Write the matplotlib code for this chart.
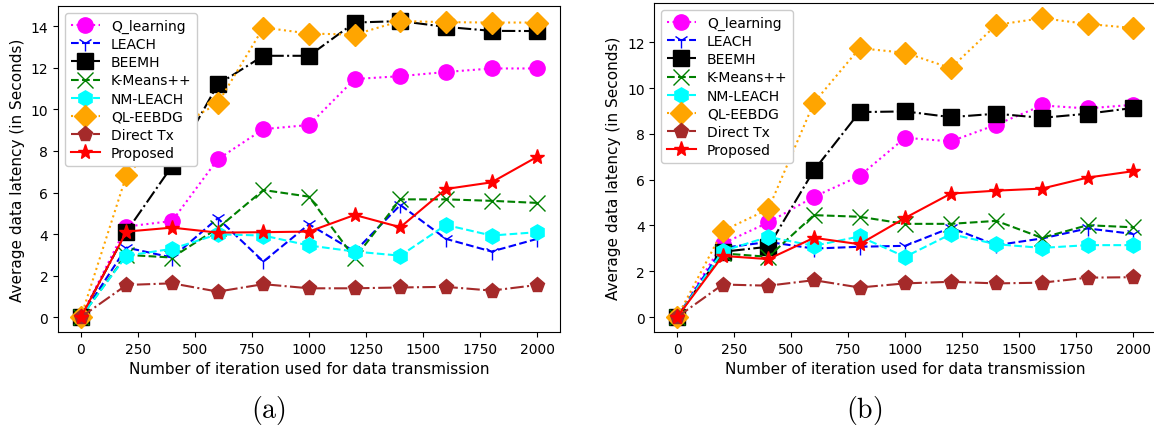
import numpy as np
import matplotlib
matplotlib.use("Agg")
import matplotlib.pyplot as plt

plt.rcParams["mathtext.fontset"] = "cm"

iterations = [0, 200, 400, 600, 800, 1000, 1200, 1400, 1600, 1800, 2000]

labels = ["Q_learning", "LEACH", "BEEMH", "K-Means++",
          "NM-LEACH", "QL-EEBDG", "Direct Tx", "Proposed"]

# panel (a)
q_learning_a = [0, 4.36, 4.63, 7.6, 9.05, 9.25, 11.46, 11.6, 11.8, 11.97, 11.97]
leach_a = [0, 3.35, 2.87, 4.76, 2.68, 4.47, 3.16, 5.4, 3.77, 3.16, 3.77]
beemh_a = [0, 4.12, 7.28, 11.2, 12.58, 12.58, 14.18, 14.25, 13.97, 13.78, 13.77]
kmeans_a = [0, 3.0, 2.87, 4.28, 6.12, 5.8, 2.84, 5.67, 5.67, 5.6, 5.5]
nm_leach_a = [0, 2.96, 3.29, 3.99, 3.93, 3.45, 3.16, 2.96, 4.44, 3.93, 4.09]
ql_eebdg_a = [0, 6.84, 9.0, 10.29, 13.94, 13.65, 13.6, 14.25, 14.2, 14.18, 14.18]
direct_a = [0, 1.55, 1.63, 1.23, 1.59, 1.39, 1.39, 1.43, 1.46, 1.28, 1.55]
proposed_a = [0, 4.12, 4.31, 4.07, 4.09, 4.12, 4.92, 4.33, 6.17, 6.49, 7.72]

# panel (b)
q_learning_b = [0, 3.21, 4.13, 5.25, 6.16, 7.83, 7.67, 8.4, 9.24, 9.11, 9.27]
leach_b = [0, 3.02, 3.28, 2.99, 3.07, 3.11, 3.9, 3.14, 3.43, 3.87, 3.63]
beemh_b = [0, 2.85, 3.07, 6.41, 8.95, 8.98, 8.73, 8.88, 8.7, 8.88, 9.13]
kmeans_b = [0, 2.78, 2.63, 4.45, 4.38, 4.07, 4.07, 4.2, 3.46, 4.01, 3.92]
nm_leach_b = [0, 2.88, 3.5, 3.11, 3.52, 2.63, 3.62, 3.18, 3.02, 3.14, 3.14]
ql_eebdg_b = [0, 3.76, 4.71, 9.36, 11.74, 11.54, 10.87, 12.76, 13.05, 12.8, 12.62]
direct_b = [0, 1.42, 1.37, 1.61, 1.29, 1.47, 1.54, 1.47, 1.5, 1.72, 1.74]
proposed_b = [0, 2.67, 2.53, 3.46, 3.18, 4.33, 5.39, 5.52, 5.61, 6.09, 6.37]

styles = [
    ("magenta", ":", "o"),
    ("blue", "--", "1"),
    ("black", "-.", "s"),
    ("green", "--", "x"),
    ("cyan", "--", "h"),
    ("orange", ":", "D"),
    ("brown", "-.", "p"),
    ("red", "-", "*"),
]


def draw_panel(ax, series):
    for lab, ys, (col, ls, mk) in zip(labels, series, styles):
        ax.plot(iterations, ys, color=col, linestyle=ls, marker=mk,
                markersize=11, linewidth=1.5, label=lab)
    ax.set_xticks(np.arange(0, 2001, 250))
    ax.set_xlabel("Number of iteration used for data transmission", fontsize=11)
    ax.set_ylabel("Average data latency (in Seconds)", fontsize=11)
    ax.tick_params(labelsize=10)
    ax.legend(loc="upper left", fontsize=10, handlelength=2.1,
              labelspacing=0.3, framealpha=1)


fig = plt.figure(figsize=(11.54, 4.31), dpi=100)
ax_a = fig.add_axes([0.0503, 0.2274, 0.435, 0.7557])
ax_b = fig.add_axes([0.567, 0.2274, 0.4347, 0.7627])

draw_panel(ax_a, [q_learning_a, leach_a, beemh_a, kmeans_a,
                  nm_leach_a, ql_eebdg_a, direct_a, proposed_a])
draw_panel(ax_b, [q_learning_b, leach_b, beemh_b, kmeans_b,
                  nm_leach_b, ql_eebdg_b, direct_b, proposed_b])

fig.text(268 / 1154, 1 - 411 / 431, r"$\mathrm{(a)}$", fontsize=20,
         ha="center", va="center")
fig.text(864 / 1154, 1 - 411 / 431, r"$\mathrm{(b)}$", fontsize=20,
         ha="center", va="center")

fig.savefig("out.png", dpi=100)
